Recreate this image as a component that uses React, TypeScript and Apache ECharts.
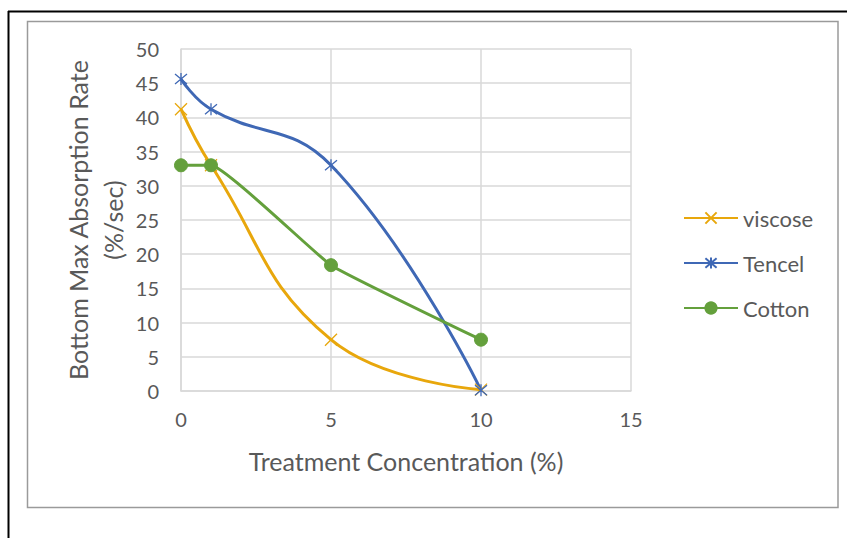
import React, { useEffect, useRef } from "react";
import * as echarts from "echarts";

const xValues = [0, 1, 5, 10];
const viscose = [41.2, 33.0, 7.5, 0.2];
const tencel = [45.6, 41.2, 33.0, 0.1];
const cotton = [33.0, 33.0, 18.4, 7.5];
const seriesNames = ["viscose", "Tencel", "Cotton"];
const colors = ["#E8A70C", "#3F68B5", "#64A03C"];

const FONT = "Lato, 'Open Sans', sans-serif";
const X_PATH = "path://M0,0L10,10M10,0L0,10";
const STAR_PATH = "path://M0,0L10,10M10,0L0,10M5,-1L5,11";

function pairs(ys: number[]) {
  return xValues.map((x, i) => [x, ys[i]]);
}

export default function App() {
  const ref = useRef<HTMLDivElement>(null);
  useEffect(() => {
    const chart = echarts.init(ref.current!, null, { renderer: "svg" });
    const lineSeries = (
      name: string,
      ys: number[],
      color: string,
      symbol: string,
      size: number,
      filled: boolean,
      smooth: number
    ) => ({
      name,
      type: "line",
      data: pairs(ys),
      smooth,
      symbol,
      symbolSize: size,
      showSymbol: true,
      lineStyle: { color, width: 3 },
      itemStyle: filled
        ? { color, borderColor: color, borderWidth: 1 }
        : { color: "transparent", borderColor: color, borderWidth: 1.3 },
      emphasis: { disabled: true },
    });
    chart.setOption({
      animation: false,
      textStyle: { fontFamily: FONT },
      grid: { left: 181, top: 49, width: 450, height: 342, containLabel: false },
      xAxis: {
        type: "value",
        min: 0,
        max: 15,
        interval: 5,
        axisLine: { show: true, lineStyle: { color: "#D9D9D9", width: 1.5 } },
        axisTick: { show: false },
        splitLine: { show: true, lineStyle: { color: "#D9D9D9", width: 1.5 } },
        axisLabel: { color: "#595959", fontSize: 20, margin: 18, fontFamily: FONT },
      },
      yAxis: {
        type: "value",
        min: 0,
        max: 50,
        interval: 5,
        axisLine: { show: true, lineStyle: { color: "#D9D9D9", width: 1.5 } },
        axisTick: { show: false },
        splitLine: { show: true, lineStyle: { color: "#D9D9D9", width: 1.5 } },
        axisLabel: { color: "#595959", fontSize: 20, margin: 22, fontFamily: FONT },
      },
      legend: {
        orient: "vertical",
        left: 683,
        top: 207,
        padding: 0,
        itemWidth: 54,
        itemHeight: 14,
        itemGap: 23,
        textStyle: { color: "#595959", fontSize: 22, fontFamily: FONT },
        data: seriesNames,
      },
      graphic: [
        { type: "line", shape: { x1: 8, y1: 11.5, x2: 847, y2: 11.5 }, style: { stroke: "#000", lineWidth: 2 } },
        { type: "line", shape: { x1: 8.5, y1: 11, x2: 8.5, y2: 538 }, style: { stroke: "#000", lineWidth: 2 } },
        { type: "rect", shape: { x: 27.5, y: 21.5, width: 810.5, height: 486 }, style: { fill: "none", stroke: "#9A9A9A", lineWidth: 1.5 } },
        {
          type: "text",
          x: 78,
          y: 220,
          rotation: Math.PI / 2,
          style: { text: "Bottom Max Absorption Rate", fill: "#595959", font: `25px ${FONT}`, align: "center", verticalAlign: "middle" },
        },
        {
          type: "text",
          x: 113,
          y: 220,
          rotation: Math.PI / 2,
          style: { text: "(%/sec)", fill: "#595959", font: `25px ${FONT}`, align: "center", verticalAlign: "middle" },
        },
        {
          type: "text",
          x: 406,
          y: 461,
          style: { text: "Treatment Concentration (%)", fill: "#595959", font: `25px ${FONT}`, align: "center", verticalAlign: "middle" },
        },
      ],
      series: [
        lineSeries(seriesNames[0], viscose, colors[0], X_PATH, 12, false, 0.45),
        lineSeries(seriesNames[1], tencel, colors[1], STAR_PATH, 12, false, 0.45),
        lineSeries(seriesNames[2], cotton, colors[2], "circle", 13, true, 0.1),
      ],
    });
    return () => chart.dispose();
  }, []);
  return <div ref={ref} style={{ position: "absolute", left: 0, top: 0, width: 847, height: 538 }} />;
}
